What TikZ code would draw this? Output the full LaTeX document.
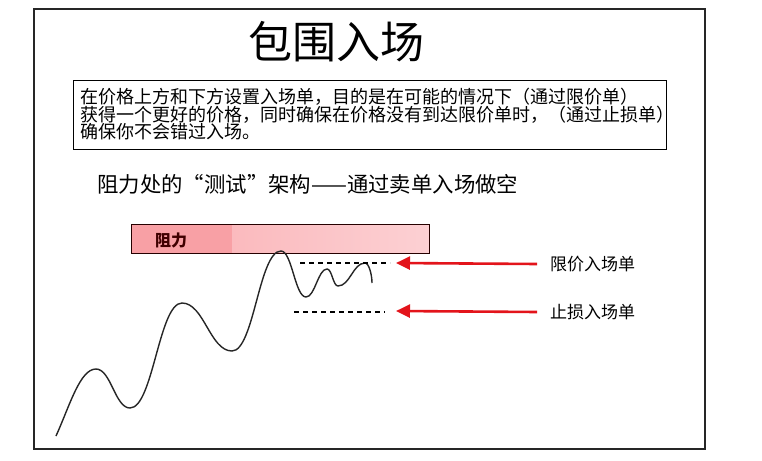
\documentclass[tikz,border=0pt]{standalone}
\usepackage{fontspec}
\setmainfont{Noto Sans CJK SC}
\usetikzlibrary{arrows.meta}
\definecolor{arrred}{HTML}{E3141B}
\definecolor{pinkL}{HTML}{FAAFB3}
\definecolor{pinkR}{HTML}{FCD0D3}
\definecolor{pinkD}{HTML}{F8A0A5}
\newcommand{\myLQ}{\makebox[1em][r]{“}}
\newcommand{\myRQ}{\makebox[1em][l]{”}}
\begin{document}
\begin{tikzpicture}[x=1pt,y=-1pt,
  frame/.style={draw=black!85, line width=1.6pt},
  boxline/.style={draw=black, line width=1.3pt},
  dashline/.style={draw=black, line width=1.2pt, dash pattern=on 5pt off 4pt},
  redarr/.style={draw=arrred, line width=2.6pt, -{Triangle[length=14pt,width=13pt]}},
  curve/.style={draw=black!85, line width=1.4pt},
  lbl/.style={anchor=west, inner sep=0pt, font=\fontsize{17}{19}\selectfont}
]
\useasboundingbox[fill=white] (0,0) rectangle (762,460);
% outer frame
\node[frame, anchor=north west, minimum width=671pt, minimum height=440pt, inner sep=0pt] (outer) at (33,8) {};
% title
\node[inner sep=0pt, font=\fontsize{44}{48}\selectfont] (title) at (336,42) {包围入场};
% description box
\node[boxline, anchor=north west, minimum width=593pt, minimum height=69pt, inner sep=0pt] (descbox) at (73,80) {};
\node[anchor=north west, align=left, inner sep=0pt, font=\fontsize{18}{17.5}\selectfont] (desc) at (80,88)
 {在价格上方和下方设置入场单，目的是在可能的情况下（通过限价单）\\
  获得一个更好的价格，同时确保在价格没有到达限价单时，（通过止损单）\\
  确保你不会错过入场。};
% subtitle
\node[anchor=west, inner sep=0pt, font=\fontsize{21.4}{23}\selectfont] (sub) at (97,184) {阻力处的\myLQ 测试\myRQ 架构——通过卖单入场做空};
% resistance box
\node[left color=pinkL, right color=pinkR, anchor=north west,
      minimum width=298pt, minimum height=29pt, inner sep=0pt] (resbox) at (131,224) {};
\fill[pinkD] (resbox.north west) rectangle ([xshift=101pt]resbox.south west);
\node[draw=black!85!red, line width=1.2pt, anchor=north west,
      minimum width=298pt, minimum height=29pt, inner sep=0pt] (resframe) at (131,224) {};
\node[anchor=west, inner sep=0pt, font=\fontsize{16}{18}\selectfont\bfseries, text=black!75!red] (reslbl) at (155,240) {阻力};
% price curve
\draw[curve] (56,436)
  .. controls (70,405) and (80,369) .. (96,369)
  .. controls (111,369) and (115,408) .. (130,408)
  .. controls (153,408) and (159,303) .. (182,303)
  .. controls (204,303) and (210,351) .. (232,351)
  .. controls (254,351) and (259,251) .. (281,251)
  .. controls (292,251) and (295,297) .. (306,297)
  .. controls (315,297) and (318,269) .. (327,269)
  .. controls (332,269) and (333,286) .. (338,286)
  .. controls (350,286) and (353,263) .. (365,263)
  .. controls (369,263) and (372,275) .. (372,283);
% dashed levels
\coordinate (d1a) at (300,263); \coordinate (d1b) at (390,263);
\coordinate (d2a) at (294,312); \coordinate (d2b) at (385,312);
\draw[dashline] (d1a) -- (d1b);
\draw[dashline] (d2a) -- (d2b);
% labels and arrows
\node[lbl] (limit) at (550,264) {限价入场单};
\node[lbl] (stop) at (550,312) {止损入场单};
\coordinate (h1) at (396,263); \coordinate (h2) at (396,311);
\draw[redarr] ([xshift=-13pt]limit.west) -- (h1);
\draw[redarr] ([xshift=-13pt]stop.west) -- (h2);
\end{tikzpicture}
\end{document}
